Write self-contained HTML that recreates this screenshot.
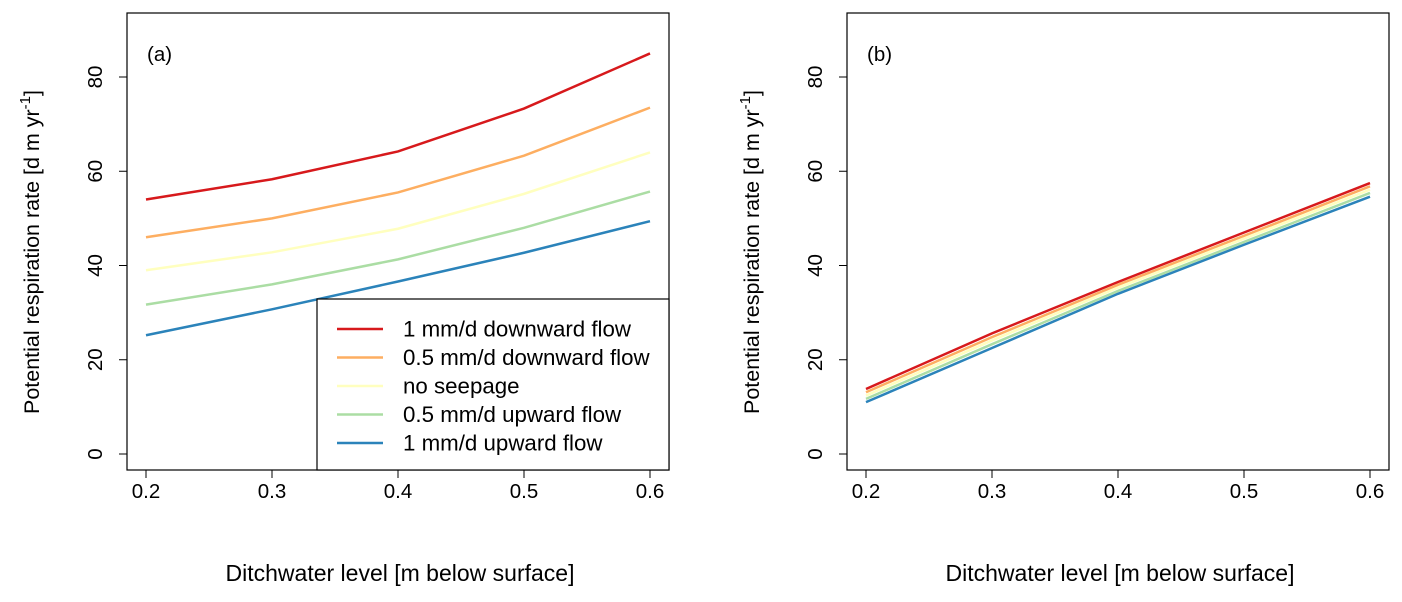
<!DOCTYPE html>
<html><head><meta charset="utf-8"><style>
body{margin:0;background:#fff;}
svg{font-family:"Liberation Sans",Arial,sans-serif;}
</style></head><body>
<svg id="chart" width="1402" height="597" viewBox="0 0 1402 597" xmlns="http://www.w3.org/2000/svg"></svg>
<script>
const xs = [0.2, 0.3, 0.4, 0.5, 0.6];
const seriesNames = ["1 mm/d downward flow","0.5 mm/d downward flow","no seepage","0.5 mm/d upward flow","1 mm/d upward flow"];
const colors = ["#d7191c","#fdae61","#ffffbf","#abdda4","#2b83ba"];
const aRed = [54, 58.3, 64.2, 73.3, 85];
const aOrange = [46, 50, 55.5, 63.3, 73.5];
const aYellow = [39, 42.8, 47.8, 55.2, 64];
const aGreen = [31.7, 36, 41.3, 48, 55.7];
const aBlue = [25.2, 30.7, 36.6, 42.7, 49.4];
const bRed = [13.8, 25.6, 36.5, 47, 57.5];
const bOrange = [13.1, 24.8, 35.9, 46.3, 56.8];
const bYellow = [12.4, 24.1, 35.3, 45.7, 56.1];
const bGreen = [11.7, 23.3, 34.6, 45, 55.4];
const bBlue = [11, 22.5, 34, 44.4, 54.6];
const xTicks = [0.2, 0.3, 0.4, 0.5, 0.6];
const yTicks = [0, 20, 40, 60, 80];

const NS = "http://www.w3.org/2000/svg";
const svg = document.getElementById("chart");
function mk(tag, attrs, parent){const e=document.createElementNS(NS,tag);for(const k in attrs)e.setAttribute(k,attrs[k]);(parent||svg).appendChild(e);return e;}

function panel(left, seriesList, label, id, legend){
  const x0 = left+19, x1 = left+523;
  const X = v => x0 + (v-0.2)/0.4*(x1-x0);
  const Y = v => 454 - v/80*377;
  const g = mk("g",{});
  
  
  seriesList.forEach((s,i)=>{
    const p = mk("polyline",{points:s.map((v,j)=>X(xs[j])+","+Y(v)).join(" "),fill:"none",stroke:colors[i],"stroke-width":2.5},g);
    
    
  });
  const box = mk("rect",{x:left,y:13,width:542,height:457,fill:"none",stroke:"#000","stroke-width":1.2},g);
  
  
  mk("line",{x1:X(0.2),x2:X(0.6),y1:470,y2:470,stroke:"#000"},g);
  xTicks.forEach(t=>{
    mk("line",{x1:X(t),x2:X(t),y1:470,y2:478,stroke:"#000"},g);
    const tx = mk("text",{x:X(t),y:498,"text-anchor":"middle","font-size":20.5},g);
    tx.textContent = t.toFixed(1);
    
    
  });
  yTicks.forEach(t=>{
    mk("line",{x1:left,x2:left-8,y1:Y(t),y2:Y(t),stroke:"#000"},g);
    const tx = mk("text",{x:left-25,y:Y(t),"text-anchor":"middle","font-size":20.5,transform:`rotate(-90 ${left-25} ${Y(t)})`},g);
    tx.textContent = t;
    
    
  });
  const xt = mk("text",{x:left+273,y:581,"text-anchor":"middle","font-size":23},g);
  xt.textContent = "Ditchwater level [m below surface]";
  
  
  const yt = mk("text",{x:0,y:0,"text-anchor":"middle","font-size":21.5,transform:`translate(${left-88},252) rotate(-90)`},g);
  yt.innerHTML = 'Potential respiration rate [d m yr<tspan dy="-9" font-size="15">-1</tspan><tspan dy="9">]</tspan>';
  
  
  const pl = mk("text",{x:left+20,y:61,"font-size":20.5},g);
  pl.textContent = label;
  
  
  if(legend){
    const lg = mk("g",{},g);
    
    
    mk("rect",{x:317,y:299,width:352,height:171,fill:"#fff",stroke:"#000","stroke-width":1.2},lg);
    seriesNames.forEach((n,i)=>{
      const yy = 329 + i*28.5;
      const e = mk("g",{},lg);
      
      
      mk("line",{x1:337,x2:383,y1:yy,y2:yy,stroke:colors[i],"stroke-width":2.5},e);
      const t = mk("text",{x:403,y:yy+7.5,"font-size":22.3},e);
      t.textContent = n;
    });
  }
}
panel(127,[aRed,aOrange,aYellow,aGreen,aBlue],"(a)","a",true);
panel(847,[bRed,bOrange,bYellow,bGreen,bBlue],"(b)","b",false);
</script>
</body></html>
